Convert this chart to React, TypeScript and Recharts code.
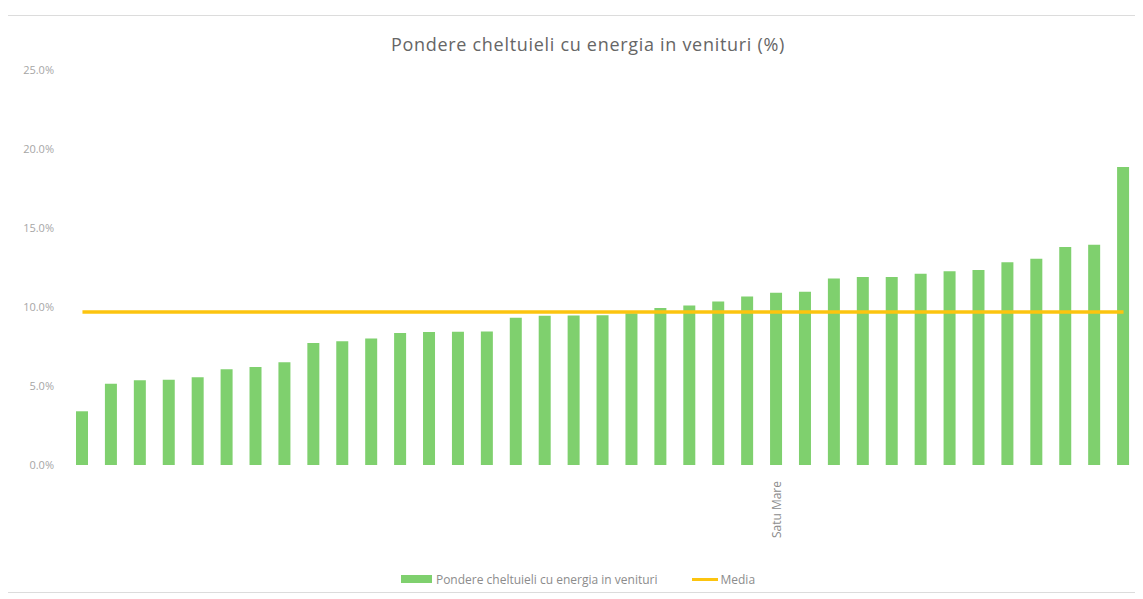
import React from "react";
import { ComposedChart, Bar, Line, XAxis, YAxis, Legend } from "recharts";

const categories: string[] = [
  "", "", "", "", "", "", "", "", "", "",
  "", "", "", "", "", "", "", "", "", "",
  "", "", "", "", "Satu Mare", "", "", "", "", "",
  "", "", "", "", "", "", "",
];

const pondere: number[] = [
  3.4, 5.15, 5.37, 5.4, 5.56, 6.06, 6.2, 6.5, 7.72, 7.83,
  8.0, 8.36, 8.42, 8.44, 8.45, 9.32, 9.44, 9.46, 9.48, 9.6,
  9.93, 10.1, 10.35, 10.66, 10.9, 10.97, 11.8, 11.9, 11.9, 12.1,
  12.26, 12.34, 12.83, 13.06, 13.8, 13.94, 18.86,
];

const media: number[] = [
  9.68, 9.68, 9.68, 9.68, 9.68, 9.68, 9.68, 9.68, 9.68, 9.68,
  9.68, 9.68, 9.68, 9.68, 9.68, 9.68, 9.68, 9.68, 9.68, 9.68,
  9.68, 9.68, 9.68, 9.68, 9.68, 9.68, 9.68, 9.68, 9.68, 9.68,
  9.68, 9.68, 9.68, 9.68, 9.68, 9.68, 9.68,
];

const yTicks: number[] = [0, 5, 10, 15, 20, 25];

const data = categories.map((c, i) => ({
  id: i,
  name: c,
  pondere: pondere[i],
  media: media[i],
}));

const FONT = "'Open Sans', 'Liberation Sans', sans-serif";
const BAR_COLOR = "#7fd06e";
const LINE_COLOR = "#fcc40f";

const XTick = (props: any) => {
  const { x, y, payload } = props;
  const label = categories[payload.value];
  if (!label) return null;
  return (
    <text
      x={x}
      y={y + 8}
      transform={`rotate(-90, ${x}, ${y + 8})`}
      textAnchor="end"
      dy="0.35em"
      fontSize={12}
      fill="#8c8c8c"
      fontFamily={FONT}
    >
      {label}
    </text>
  );
};

const LegendContent = () => (
  <div
    style={{
      display: "flex",
      justifyContent: "center",
      alignItems: "center",
      height: 20,
      fontFamily: FONT,
      fontSize: 12,
      color: "#8c8c8c",
      paddingLeft: 0,
    }}
  >
    <span style={{ display: "inline-block", width: 31, height: 8, background: BAR_COLOR, marginRight: 4 }} />
    <span style={{ marginRight: 34 }}>Pondere cheltuieli cu energia in venituri</span>
    <span style={{ display: "inline-block", width: 26, height: 3, background: LINE_COLOR, marginRight: 3 }} />
    <span>Media</span>
  </div>
);

export default function App() {
  return (
    <div style={{ position: "relative", width: 1135, height: 591 }}>
      <div
        style={{
          position: "absolute",
          left: -3,
          top: 7,
          width: 1150,
          height: 578,
          border: "1px solid #dcdcdc",
          boxSizing: "border-box",
        }}
      />
      <div
        style={{
          position: "absolute",
          left: 0,
          top: 24,
          width: 1160,
          textAlign: "center",
          fontFamily: FONT,
          fontSize: 18,
          letterSpacing: 0.7,
          color: "#666666",
        }}
      >
        Pondere cheltuieli cu energia in venituri (%)
      </div>
      <ComposedChart
        width={1135}
        height={591}
        data={data}
        margin={{ top: 62, right: 5, left: 10, bottom: 10 }}
        barCategoryGap={0}
      >
        <XAxis
          dataKey="id"
          type="category"
          interval={0}
          axisLine={false}
          tickLine={false}
          tick={<XTick />}
          height={104}
        />
        <YAxis
          domain={[0, 25]}
          ticks={yTicks}
          tickFormatter={(v: number) => v.toFixed(1) + "%"}
          axisLine={false}
          tickLine={false}
          width={50}
          dx={-6}
          tick={{ fontSize: 11, fill: "#a6a6a6", fontFamily: FONT }}
        />
        <Legend verticalAlign="bottom" content={<LegendContent />} />
        <Bar dataKey="pondere" fill={BAR_COLOR} barSize={12} isAnimationActive={false} />
        <Line
          dataKey="media"
          type="linear"
          stroke={LINE_COLOR}
          strokeWidth={3.5}
          dot={false}
          activeDot={false}
          isAnimationActive={false}
        />
      </ComposedChart>
    </div>
  );
}
